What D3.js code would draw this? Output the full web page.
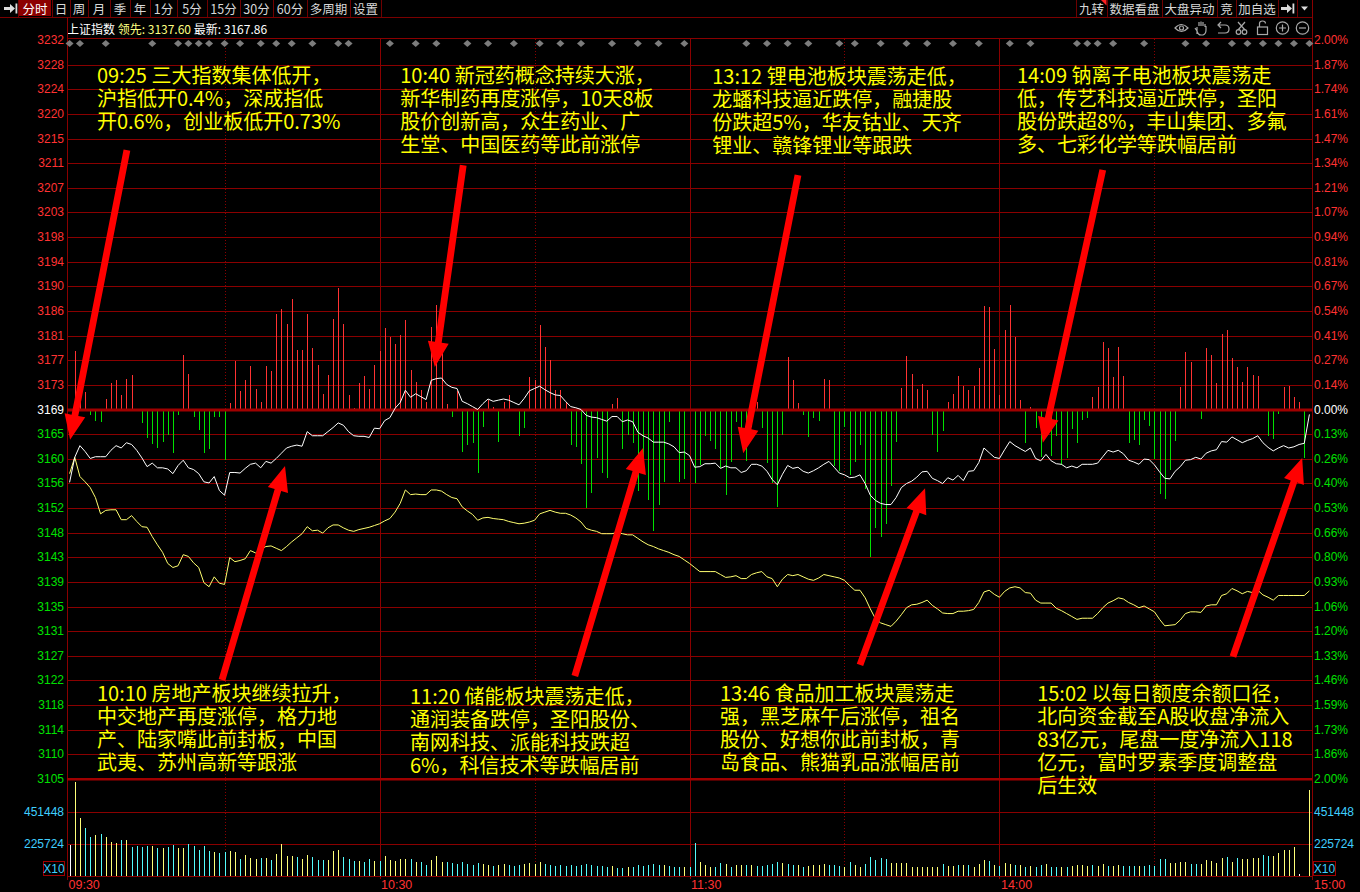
<!DOCTYPE html>
<html><head><meta charset="utf-8">
<script src="https://cdn.jsdelivr.net/npm/d3@7"></script>
<style>
html,body{margin:0;padding:0;background:#000;overflow:hidden}
svg{display:block}
.note{font-family:'Noto Sans CJK SC','Noto Sans',sans-serif;font-size:20px;line-height:23px;color:#ffff00;white-space:nowrap;margin:0;padding:0}
</style></head><body>
<svg id="c" width="1360" height="892"></svg>
<script>
// ---------------- DATA ----------------
const preClose = 3168.7;
const leadLast = "3137.60", lastPrice = "3167.86";
const leftTicks = ["3232","3228","3224","3220","3215","3211","3207","3203","3198","3194","3190","3186","3181","3177","3173","3169","3165","3160","3156","3152","3148","3143","3139","3135","3131","3127","3122","3118","3114","3110","3105"];
const rightTicks = ["2.00%","1.87%","1.74%","1.61%","1.47%","1.34%","1.21%","1.07%","0.94%","0.81%","0.67%","0.54%","0.41%","0.27%","0.14%","0.00%","0.13%","0.26%","0.40%","0.53%","0.66%","0.80%","0.93%","1.06%","1.20%","1.33%","1.46%","1.59%","1.73%","1.86%","2.00%"];
const volTickValues = [451448, 225724];
const volTickLabels = ["451448", "225724"];
const volMax = 677172;
const timeLabels = ["09:30","10:30","11:30","14:00","15:00"];
const timeLabelAt = [-0.5, 60, 120, 180, 240.5];
const solidMinutes = [60, 120, 180];
const dottedMinutes = [30, 90, 150, 210];
const toolbarLeft = ["分时","日","周","月","季","年","1分","5分","15分","30分","60分","多周期","设置"];
const toolbarRight = ["九转","数据看盘","大盘异动","竞","加自选"];

const whitePrice = [
3156.2,3160.5,3162.5,3161.5,3160.3,3160.6,3160.6,3160.6,3161.7,3162.5,
3162.1,3163.0,3162.7,3161.7,3160.4,3158.9,3159.5,3158.7,3158.7,3158.5,
3157.7,3159.1,3160.0,3158.7,3158.4,3157.7,3156.3,3156.1,3157.2,3154.8,
3154.0,3157.9,3157.9,3157.8,3158.6,3159.3,3159.5,3158.7,3159.8,3159.5,
3160.3,3161.2,3162.1,3162.4,3162.6,3162.4,3164.9,3164.2,3164.2,3164.2,
3164.9,3165.6,3166.4,3166.0,3164.9,3164.2,3164.1,3164.1,3163.9,3165.5,
3165.4,3166.8,3167.3,3168.9,3169.9,3172.0,3170.8,3171.4,3170.9,3170.4,
3173.7,3174.0,3174.1,3173.0,3172.5,3172.3,3170.1,3169.7,3169.2,3168.7,
3169.7,3170.5,3170.1,3170.3,3170.5,3170.3,3169.9,3169.5,3170.6,3171.9,
3172.3,3172.7,3172.1,3171.6,3171.2,3171.1,3170.1,3169.2,3169.0,3168.7,
3167.7,3167.4,3167.3,3167.0,3166.7,3167.5,3167.5,3166.6,3166.9,3166.6,
3164.8,3164.2,3163.8,3163.1,3163.1,3163.1,3162.8,3162.3,3161.3,3161.4,
3160.8,3158.8,3158.9,3159.4,3159.4,3159.5,3158.6,3159.0,3158.7,3158.7,
3157.9,3158.2,3159.3,3159.3,3159.0,3158.1,3156.7,3155.8,3157.6,3159.1,
3158.6,3158.8,3158.1,3157.8,3158.2,3158.7,3159.3,3159.8,3158.8,3157.8,
3157.5,3157.0,3157.1,3157.5,3156.0,3154.0,3153.1,3152.6,3152.4,3152.4,
3153.6,3155.3,3156.0,3156.4,3157.1,3158.0,3158.1,3156.9,3156.5,3156.0,
3157.0,3156.6,3157.4,3156.5,3158.1,3158.2,3159.6,3162.1,3161.3,3160.5,
3160.3,3161.8,3163.2,3162.5,3162.0,3161.5,3162.1,3160.3,3159.9,3161.0,
3159.9,3159.4,3159.3,3158.7,3159.0,3158.7,3159.3,3159.3,3159.3,3159.5,
3160.6,3161.7,3161.4,3161.7,3161.1,3160.0,3159.7,3159.3,3160.2,3160.1,
3159.2,3158.0,3156.9,3156.8,3158.1,3158.9,3160.0,3160.1,3160.5,3160.2,
3161.2,3161.6,3161.8,3163.2,3163.1,3164.0,3163.5,3163.0,3163.4,3163.7,
3164.2,3163.0,3162.2,3161.6,3162.1,3162.5,3162.1,3162.3,3162.7,3162.9,
3167.86];

const yellowPrice = [
3157.7,3160.5,3157.2,3156.3,3155.3,3153.6,3150.8,3151.4,3151.5,3151.5,
3149.8,3149.8,3150.5,3149.5,3148.6,3148.5,3146.9,3145.5,3144.2,3142.3,
3141.6,3141.9,3143.8,3143.5,3142.4,3141.6,3139.0,3138.3,3140.0,3138.9,
3138.7,3143.3,3142.6,3142.8,3143.1,3144.5,3144.1,3144.7,3145.2,3145.3,
3144.9,3144.5,3145.2,3146.0,3146.7,3147.4,3148.6,3147.9,3148.0,3147.5,
3148.4,3148.9,3148.9,3148.4,3148.0,3147.8,3148.1,3148.3,3148.5,3148.8,
3149.1,3149.6,3150.0,3151.1,3152.6,3154.9,3154.1,3154.2,3154.1,3154.1,
3154.9,3154.9,3154.7,3154.1,3153.6,3153.4,3152.0,3151.3,3150.7,3149.7,
3150.1,3150.2,3150.0,3149.9,3149.8,3149.5,3149.3,3149.1,3149.2,3149.4,
3149.7,3150.8,3151.1,3151.4,3151.1,3150.9,3150.9,3150.6,3150.1,3149.4,
3148.3,3148.0,3147.8,3147.4,3147.4,3147.4,3147.6,3147.4,3147.2,3147.2,
3146.6,3146.0,3145.5,3145.2,3144.8,3144.5,3144.2,3143.8,3143.5,3142.9,
3142.3,3141.6,3140.9,3140.9,3140.9,3140.9,3140.4,3139.9,3140.0,3140.2,
3139.7,3139.7,3140.4,3140.7,3140.9,3140.0,3139.7,3138.3,3139.6,3140.4,
3140.2,3140.4,3140.0,3139.6,3139.4,3139.8,3140.4,3140.2,3140.0,3139.8,
3139.4,3138.5,3137.7,3137.7,3136.4,3134.5,3132.8,3132.1,3131.8,3131.5,
3132.4,3133.5,3134.7,3135.2,3135.3,3135.6,3136.0,3135.1,3134.5,3133.8,
3133.7,3133.7,3134.1,3134.1,3134.2,3134.4,3135.6,3137.4,3137.7,3137.0,
3136.5,3137.5,3138.1,3138.3,3138.1,3137.3,3137.2,3136.0,3135.5,3135.5,
3135.5,3134.6,3134.2,3133.7,3133.2,3132.7,3132.9,3132.9,3132.9,3133.7,
3134.7,3135.5,3135.9,3136.4,3136.2,3135.6,3135.2,3134.7,3135.0,3134.5,
3134.0,3132.7,3131.6,3131.7,3131.8,3132.6,3133.7,3134.0,3134.0,3133.9,
3135.0,3135.2,3135.2,3136.8,3137.1,3138.0,3137.6,3137.1,3137.5,3137.3,
3137.7,3136.9,3136.5,3136.0,3136.8,3136.8,3136.8,3136.8,3136.8,3136.8,
3137.60];

// buying / selling force bars (index points above / below the previous close)
const forceBars = [
0,10.0,3.0,3.0,-1.0,-1.9,-2.1,1.8,4.6,5.0,
2.5,5.3,5.9,-0.1,-2.3,-4.9,-6.0,-6.6,-5.5,-4.4,
-7.4,-1.0,9.3,6.1,-1.3,-3.6,-7.4,-6.7,-1.3,-1.3,
-8.6,1.1,8.3,3.1,5.0,7.4,3.6,1.3,7.4,6.6,
16.3,17.2,14.6,18.9,10.2,10.2,16.3,10.6,7.7,2.6,
6.0,15.5,20.8,14.6,2.5,0.3,4.6,5.8,3.6,7.6,
10.0,14.0,12.5,11.2,12.8,15.3,6.8,4.8,3.3,1.3,
14.2,17.9,10.2,0.9,-1.3,3.1,-7.3,-6.1,-5.8,-10.9,
-3.0,1.7,0.5,-5.5,1.3,2.5,-0.2,-4.5,-3.1,5.6,
5.0,14.5,10.8,8.5,3.3,3.3,1.3,-6.1,-6.4,-9.3,
-16.9,-14.3,-8.4,-10.9,-11.7,0.9,2.0,-6.7,-4.3,-5.8,
-14.0,-10.9,-15.5,-20.8,-16.3,-12.4,-2.1,-0.1,-12.4,-12.0,
0,-12.6,-9.6,-4.5,-5.4,-6.8,-10.1,-14.6,-9.0,-2.1,
-4.1,-8.8,-3.0,1.3,-3.1,-9.2,-12.6,-16.7,-4.4,9.0,
5.0,1.1,-1.0,-4.7,-1.4,-1.9,5.2,5.0,-9.7,-10.5,
-3.0,-11.3,-9.0,-6.1,-13.6,-25.3,-20.3,-21.9,-19.6,-13.2,
-5.5,3.7,9.2,6.1,3.5,4.4,3.3,-4.4,-7.3,-3.7,
1.3,2.6,5.7,4.0,3.3,4.0,7.2,17.7,17.5,10.4,
2.5,13.6,18.0,12.4,1.7,-5.7,0.5,-3.1,-8.2,-1.0,
-8.0,-4.6,-9.5,-8.4,-3.4,-5.7,-1.8,-1.5,2.1,3.8,
11.5,10.6,5.6,10.8,5.8,-5.7,-5.2,-6.1,-1.8,-2.8,
-8.5,-14.5,-15.3,-10.4,-5.4,3.9,9.8,8.1,0,-1.7,
10.5,9.4,4.5,12.9,13.7,8.9,7.3,4.8,7.3,6.0,
5.8,-0.3,-4.6,-5.0,-0.8,3.8,4.1,2.2,1.3,-8.4,
0];

const volume = [
218700,660000,407000,336500,273000,289200,296300,277200,242000,234900,
253900,253900,206700,211600,206700,211600,211600,199600,199600,206700,
218700,199600,199600,225700,211600,183400,211600,178500,171400,164400,
171400,176400,171400,119900,148100,129100,119900,124900,124900,112900,
155200,225700,141100,141100,131900,122000,148100,131900,112900,112900,
112900,176400,183400,131900,119900,105800,105800,100900,117800,105800,
105800,141100,112900,105800,119900,117800,117800,96600,96600,75500,
112900,141100,96600,96600,91700,84600,98800,84600,77600,91700,
84600,77600,70500,77600,84600,77600,70500,77600,84600,91700,
84600,98800,84600,77600,70500,77600,70500,77600,70500,77600,
84600,77600,70500,70500,65600,70500,54300,54300,65600,61400,
77600,72700,77600,84600,77600,77600,72700,61400,61400,65600,
61400,234900,100900,77600,65600,65600,93800,84600,65600,77600,
77600,77600,77600,70500,70500,77600,84600,100900,89600,84600,
77600,77600,65600,72700,77600,77600,84600,77600,77600,72700,
65600,96600,77600,61400,84600,131900,112900,124900,117800,89600,
93800,89600,89600,65600,65600,65600,61400,61400,65600,82500,
70500,72700,77600,75500,77600,65600,82500,112900,105800,77600,
72700,91700,84600,77600,77600,65600,70500,65600,77600,84600,
61400,61400,61400,61400,72700,77600,77600,72700,77600,72700,
82500,70500,72700,77600,70500,70500,70500,72700,70500,75500,
70500,117800,117800,89600,89600,100900,96600,84600,84600,84600,
112900,107900,93800,124900,131900,100900,124900,117800,117800,124900,
124900,148100,141100,141100,160100,183400,183400,202400,14100,0,
606600];

// w = unchanged, y = up, c = down
const volColor = ("wyyccycyyy"+"cyccccycyc"+"cyycccccyc"+"cyycyyycyc"+"yyyycyyccc"+
 "yyycccyccy"+"cyyyyycycc"+"yyyccccccc"+"yycyycccyy"+"yycccccccc"+
 "cccccyccyc"+"cccccycccy"+"ccyyyccycy"+"ycycccccyc"+"cycyyyyccc"+
 "ycyycccccy"+"yyyyyyyyyc"+"yycycyyycy"+"cyycycyccy"+"ccycyyyycy"+
 "ycyycccycc"+"cccyyyyccy"+"yyyycycyyy"+"yccyyyyyww"+"y").split("");

const eventMinutes = [0,2,7,16,21,23,25,27,30,33,37,40,43,47,52,54,62,67,71,77,81,86,91,95,99,105,110,114,119,131,135,139,143,149,152,157,162,166,171,176,182,186,195,197,199,202,208,216,220,225,228,231,234,237,240];

const notes = [
 {m:5.3, p:3226.2, lines:["09:25 三大指数集体低开，","沪指低开0.4%，深成指低","开0.6%，创业板低开0.73%"]},
 {m:64.0, p:3226.2, lines:["10:40 新冠药概念持续大涨，","新华制药再度涨停，10天8板","股价创新高，众生药业、广","生堂、中国医药等此前涨停"]},
 {m:124.4, p:3225.9, lines:["13:12 锂电池板块震荡走低，","龙蟠科技逼近跌停，融捷股","份跌超5%，华友钴业、天齐","锂业、赣锋锂业等跟跌"]},
 {m:183.4, p:3226.2, lines:["14:09 钠离子电池板块震荡走","低，传艺科技逼近跌停，圣阳","股份跌超8%，丰山集团、多氟","多、七彩化学等跌幅居前"]},
 {m:5.3, p:3120.1, lines:["10:10 房地产板块继续拉升，","中交地产再度涨停，格力地","产、陆家嘴此前封板，中国","武夷、苏州高新等跟涨"]},
 {m:65.9, p:3119.6, lines:["11:20 储能板块震荡走低，","通润装备跌停，圣阳股份、","南网科技、派能科技跌超","6%，科信技术等跌幅居前"]},
 {m:125.9, p:3120.1, lines:["13:46 食品加工板块震荡走","强，黑芝麻午后涨停，祖名","股份、好想你此前封板，青","岛食品、熊猫乳品涨幅居前"]},
 {m:187.3, p:3120.1, lines:["15:02 以每日额度余额口径，","北向资金截至A股收盘净流入","83亿元，尾盘一度净流入118","亿元，富时罗素季度调整盘","后生效"]}
];

const arrows = [
 {from:[11.1,3213.2], to:[0.1,3163.5]},
 {from:[76.2,3210.6], to:[70.7,3176.0]},
 {from:[141.0,3208.9], to:[130.4,3161.2]},
 {from:[200.0,3209.8], to:[188.4,3163.0]},
 {from:[29.5,3122.3], to:[41.7,3159.0]},
 {from:[97.8,3123.0], to:[111.0,3162.1]},
 {from:[153.0,3124.9], to:[165.6,3155.2]},
 {from:[225.2,3126.3], to:[238.6,3160.4]}
];

// ---------------- DRAWING ----------------
const svg = d3.select("#c");
const L = 67, R = 1312, TOP = 40, ZB = 779, VTOP = 780, VB = 876;
const x = d3.scaleLinear().domain([-0.5, 240.5]).range([L, R]);
const y = d3.scaleLinear().domain([preClose * 0.98, preClose * 1.02]).range([ZB, TOP]);
const vy = d3.scaleLinear().domain([0, volMax]).range([VB, VTOP]);
const GRID = "#8a0000", GRID2 = "#a00000";
const RED = "#ff3232", GREEN = "#00e000";
const NUMFONT = "'Liberation Sans', Arial, sans-serif";
const CJK = "'Noto Sans CJK SC', 'Noto Sans', sans-serif";
const cr = v => Math.round(v) + 0.5;

svg.append("rect").attr("width", 1360).attr("height", 892).attr("fill", "#000");

// ---- toolbar ----
const tb = svg.append("g");
const leftEdges = [18, 52, 70, 88, 110, 130, 150, 177, 207, 240, 273, 307, 350, 381];
tb.append("rect").attr("x", 19).attr("y", 0).attr("width", 32).attr("height", 16).attr("fill", "#8c0000");
leftEdges.forEach(e => tb.append("line").attr("x1", e + 0.5).attr("x2", e + 0.5).attr("y1", 0).attr("y2", 17).attr("stroke", "#6e0000"));
toolbarLeft.forEach((t, i) => {
  tb.append("text").attr("x", (leftEdges[i] + leftEdges[i + 1]) / 2).attr("y", 8.5)
    .attr("text-anchor", "middle").attr("dominant-baseline", "central")
    .attr("font-family", CJK).attr("font-size", 12.5).attr("fill", i === 0 ? "#fff" : "#d8d8d8").text(t);
});
tb.append("path").attr("d", "M4,7 L10,7 L10,4 L15,8.5 L10,13 L10,10 L4,10 Z").attr("fill", "#dcdcdc");
tb.append("rect").attr("x", 15.5).attr("y", 3.5).attr("width", 1.8).attr("height", 10).attr("fill", "#dcdcdc");
const rightEdges = [1076, 1107, 1162, 1217, 1236, 1278, 1297, 1312];
rightEdges.forEach(e => tb.append("line").attr("x1", e + 0.5).attr("x2", e + 0.5).attr("y1", 0).attr("y2", 17).attr("stroke", "#6e0000"));
toolbarRight.forEach((t, i) => {
  tb.append("text").attr("x", (rightEdges[i] + rightEdges[i + 1]) / 2).attr("y", 8.5)
    .attr("text-anchor", "middle").attr("dominant-baseline", "central")
    .attr("font-family", CJK).attr("font-size", 12.5).attr("fill", "#d8d8d8").text(t);
});
tb.append("path").attr("d", "M1101,0 L1106.5,0 L1106.5,5.5 Z").attr("fill", "#ff2020");
tb.append("path").attr("d", "M1281,7 L1287,7 L1287,4 L1292,8.5 L1287,13 L1287,10 L1281,10 Z").attr("fill", "#dcdcdc");
tb.append("rect").attr("x", 1292.5).attr("y", 3.5).attr("width", 1.8).attr("height", 10).attr("fill", "#dcdcdc");
tb.append("path").attr("d", "M1301,6.5 L1308,6.5 L1304.5,10.5 Z").attr("fill", "#dcdcdc");
tb.append("line").attr("x1", 0).attr("x2", R).attr("y1", 17.5).attr("y2", 17.5).attr("stroke", "#7a0000");

// ---- header ----
const hd = svg.append("text").attr("x", 67).attr("y", 27.5).attr("dominant-baseline", "central")
  .attr("font-family", CJK).attr("font-size", 12);
hd.append("tspan").attr("fill", "#fff").text("上证指数 ");
hd.append("tspan").attr("fill", "#ffff80").text("领先: " + leadLast + " ");
hd.append("tspan").attr("fill", "#fff").text("最新: " + lastPrice);

// header icons
const ic = svg.append("g").attr("fill", "none").attr("stroke", "#a8a8a8").attr("stroke-width", 1.2);
ic.append("path").attr("d", "M1175,28 Q1181.5,21 1188,28 Q1181.5,35 1175,28 Z");
ic.append("circle").attr("cx", 1181.5).attr("cy", 28).attr("r", 2);
ic.append("path").attr("d", "M1197,34 L1197,27 M1199,26 L1199,22 M1201,26 L1201,21.5 M1203,26 L1203,22 M1205,27 L1205,24 M1195,28 L1197,31 Q1198,35 1201,35 L1203,35 Q1206,34 1206,30 L1206,26");
ic.append("path").attr("d", "M1219,25 L1225,25 Q1229,25 1229,29 Q1229,33 1225,33 L1218,33 M1221,22 L1218,25 L1221,28");
ic.append("path").attr("d", "M1238,22 L1245,30 M1245,22 L1238,30");
ic.append("circle").attr("cx", 1238.5).attr("cy", 32).attr("r", 2.3);
ic.append("circle").attr("cx", 1244.5).attr("cy", 32).attr("r", 2.3);
ic.append("rect").attr("x", 1257.5).attr("y", 27).attr("width", 10).attr("height", 7.5);
ic.append("path").attr("d", "M1259.5,27 L1259.5,23.5 Q1259.5,21 1262.5,21 Q1265.5,21 1265.5,23.5");
ic.append("circle").attr("cx", 1282.5).attr("cy", 28).attr("r", 6.2);
ic.append("path").attr("d", "M1279,28 L1286,28 M1282.5,24.5 L1282.5,31.5");
ic.append("circle").attr("cx", 1302.5).attr("cy", 28).attr("r", 6.2);
ic.append("path").attr("d", "M1299,28 L1306,28");

// ---- grid ----
const gg = svg.append("g").attr("shape-rendering", "crispEdges");
const tickPrice = i => preClose * (1.02 - i * 0.04 / 30);
gg.append("line").attr("x1", L).attr("x2", R).attr("y1", 38.5).attr("y2", 38.5).attr("stroke", GRID);
for (let i = 1; i < 30; i++) {
  if (i === 15) continue;
  const yy = cr(y(tickPrice(i)));
  gg.append("line").attr("x1", L).attr("x2", R).attr("y1", yy).attr("y2", yy).attr("stroke", GRID);
}
volTickValues.forEach(v => {
  gg.append("line").attr("x1", L).attr("x2", R).attr("y1", cr(vy(v))).attr("y2", cr(vy(v))).attr("stroke", GRID);
});
gg.append("line").attr("x1", L).attr("x2", R).attr("y1", VB + 0.5).attr("y2", VB + 0.5).attr("stroke", GRID);
solidMinutes.forEach(m => {
  gg.append("line").attr("x1", cr(x(m))).attr("x2", cr(x(m))).attr("y1", 38).attr("y2", 879).attr("stroke", GRID);
});
dottedMinutes.forEach(m => {
  gg.append("line").attr("x1", cr(x(m))).attr("x2", cr(x(m))).attr("y1", 39).attr("y2", VB).attr("stroke", GRID).attr("stroke-dasharray", "1,2");
});
gg.append("line").attr("x1", L + 0.5).attr("x2", L + 0.5).attr("y1", 17).attr("y2", 880).attr("stroke", GRID);
gg.append("line").attr("x1", R + 0.5).attr("x2", R + 0.5).attr("y1", 0).attr("y2", 880).attr("stroke", GRID);

// ---- event diamonds ----
svg.append("g").selectAll("path").data(eventMinutes).join("path")
  .attr("transform", d => `translate(${x(d)},43.5)`)
  .attr("d", "M0,-3.6 L4,0 L0,3.6 L-4,0 Z").attr("fill", "#7c7c7c");

// ---- force bars ----
const zeroY = y(preClose);
svg.append("g").attr("shape-rendering", "crispEdges").selectAll("line")
  .data(forceBars.map((v, i) => ({ v, i })).filter(d => d.v !== 0)).join("line")
  .attr("x1", d => cr(x(d.i))).attr("x2", d => cr(x(d.i)))
  .attr("y1", zeroY).attr("y2", d => y(preClose + d.v))
  .attr("stroke", d => d.v > 0 ? RED : GREEN);

svg.append("rect").attr("x", L).attr("y", Math.round(zeroY) - 1.5).attr("width", R - L).attr("height", 3).attr("fill", GRID2);
svg.append("rect").attr("x", L).attr("y", ZB - 1).attr("width", R - L).attr("height", 2.5).attr("fill", GRID2);

// ---- price lines ----
const line = d3.line().x((d, i) => x(i)).y(d => y(d));
svg.append("path").datum(yellowPrice).attr("d", line).attr("fill", "none").attr("stroke", "#ffff70").attr("stroke-width", 1);
svg.append("path").datum(whitePrice).attr("d", line).attr("fill", "none").attr("stroke", "#ffffff").attr("stroke-width", 1);

// ---- volume ----
const vcol = { w: "#ffffff", y: "#ffff78", c: "#54fcfc" };
svg.append("g").attr("shape-rendering", "crispEdges").selectAll("line")
  .data(volume.map((v, i) => ({ v, i })).filter(d => d.v > 0)).join("line")
  .attr("x1", d => cr(x(d.i))).attr("x2", d => cr(x(d.i)))
  .attr("y1", VB).attr("y2", d => vy(d.v))
  .attr("stroke", d => vcol[volColor[d.i]]);

// ---- axis labels ----
const ax = svg.append("g").attr("font-family", NUMFONT).attr("font-size", 12);
leftTicks.forEach((t, i) => {
  ax.append("text").attr("x", 64).attr("y", y(tickPrice(i))).attr("text-anchor", "end")
    .attr("dominant-baseline", "central").attr("fill", i < 15 ? RED : i === 15 ? "#fff" : GREEN).text(t);
});
rightTicks.forEach((t, i) => {
  ax.append("text").attr("x", 1314).attr("y", y(tickPrice(i))).attr("dominant-baseline", "central")
    .attr("fill", i < 15 ? RED : i === 15 ? "#fff" : GREEN).text(t);
});
volTickValues.forEach((v, i) => {
  ax.append("text").attr("x", 64).attr("y", vy(v)).attr("text-anchor", "end").attr("dominant-baseline", "central").attr("fill", "#3fcfff").text(volTickLabels[i]);
  ax.append("text").attr("x", 1314).attr("y", vy(v)).attr("dominant-baseline", "central").attr("fill", "#3fcfff").text(volTickLabels[i]);
});
[[43.5, 64.5], [1313.5, 1335.5]].forEach(([a, b]) => {
  ax.append("rect").attr("x", a).attr("y", 861.5).attr("width", b - a).attr("height", 14).attr("fill", "none").attr("stroke", "#a00000");
  ax.append("text").attr("x", (a + b) / 2).attr("y", 869).attr("text-anchor", "middle").attr("dominant-baseline", "central").attr("fill", "#3fcfff").text("X10");
});
timeLabels.forEach((t, i) => {
  ax.append("text").attr("x", x(timeLabelAt[i]) + (i === 4 ? 2 : 1.5)).attr("y", 885).attr("dominant-baseline", "central")
    .attr("fill", RED).attr("font-size", 12.5).text(t);
});

// ---- arrows ----
function arrowPoly(t, p) {
  const dx = p[0] - t[0], dy = p[1] - t[1], len = Math.hypot(dx, dy);
  const ux = dx / len, uy = dy / len, nx = -uy, ny = ux;
  const hl = 25, hw = 10.5, sw = 3.4;
  const bx = p[0] - ux * hl, by = p[1] - uy * hl;
  return [[t[0] + nx * sw, t[1] + ny * sw], [bx + nx * sw, by + ny * sw], [bx + nx * hw, by + ny * hw], p,
          [bx - nx * hw, by - ny * hw], [bx - nx * sw, by - ny * sw], [t[0] - nx * sw, t[1] - ny * sw]];
}
svg.append("g").selectAll("path").data(arrows).join("path")
  .attr("d", a => "M" + arrowPoly([x(a.from[0]), y(a.from[1])], [x(a.to[0]), y(a.to[1])]).map(p => p.join(",")).join("L") + "Z")
  .attr("fill", "#ff0000");

// ---- notes: one HTML block per note, 23px line boxes ----
notes.forEach(n => {
  const fo = svg.append("foreignObject")
    .attr("x", x(n.m)).attr("y", y(n.p) - 11.5)
    .attr("width", 320).attr("height", n.lines.length * 23 + 4);
  const div = fo.append("xhtml:div").attr("class", "note");
  n.lines.forEach((ln, k) => {
    if (k > 0) div.append("xhtml:br");
    div.append("xhtml:span").text(ln);
  });
});
</script>
</body></html>
